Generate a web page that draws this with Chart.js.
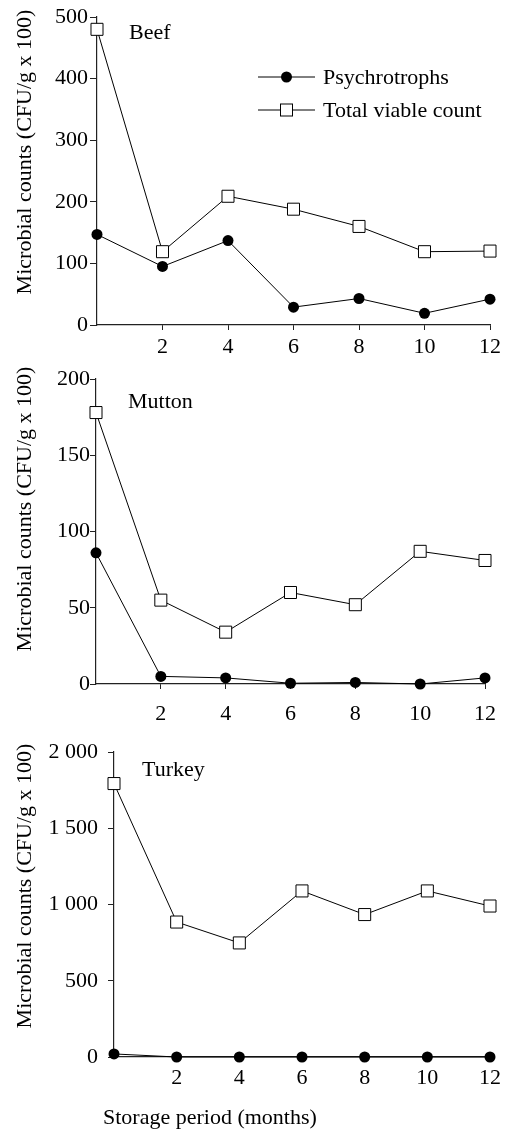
<!DOCTYPE html>
<html>
<head>
<meta charset="utf-8">
<script src="https://cdn.jsdelivr.net/npm/chart.js@4/dist/chart.umd.min.js"></script>
<style>
  body { margin: 0; background: #fff; }
  .panel { position: absolute; left: 0; width: 508px; }
</style>
</head>
<body>
<div class="panel" style="top:0;height:360px"><canvas id="beef" width="508" height="360"></canvas></div>
<div class="panel" style="top:360px;height:360px"><canvas id="mutton" width="508" height="360"></canvas></div>
<div class="panel" style="top:720px;height:411px"><canvas id="turkey" width="508" height="411"></canvas></div>
<script>
// storage period, months
const months = [0, 2, 4, 6, 8, 10, 12];
const xTickLabels = ['', '2', '4', '6', '8', '10', '12'];

// beef
const beefPsychro = [147, 95, 137, 29, 43, 19, 42];
const beefTvc = [480, 119, 209, 188, 160, 119, 120];
const beefYTicks = ['0', '100', '200', '300', '400', '500'];

// mutton
const muttonPsychro = [86, 5, 4, 0.5, 1, 0, 4];
const muttonTvc = [178, 55, 34, 60, 52, 87, 81];
const muttonYTicks = ['0', '50', '100', '150', '200'];

// turkey
const turkeyPsychro = [20, 0, 0, 0, 0, 0, 0];
const turkeyTvc = [1793, 885, 748, 1089, 934, 1089, 990];
const turkeyYTicks = ['0', '500', '1 000', '1 500', '2 000'];

const seriesNames = ['Psychrotrophs', 'Total viable count'];
const yTitle = 'Microbial counts (CFU/g x 100)';
const xTitle = 'Storage period (months)';

const FONT = "'Liberation Serif', 'Times New Roman', serif";

// draws the rotated y title, panel name, legend and x title
const panelText = {
    id: 'panelText',
    afterDraw(chart, args, opts) {
        const ctx = chart.ctx;
        ctx.save();
        ctx.fillStyle = '#000';
        ctx.font = '22px ' + FONT;

        // y title
        ctx.save();
        ctx.translate(opts.yTitleX, opts.yTitleY);
        ctx.rotate(-Math.PI / 2);
        ctx.textAlign = 'center';
        ctx.textBaseline = 'middle';
        ctx.fillText(yTitle, 0, 0);
        ctx.restore();

        // panel name
        ctx.textAlign = 'left';
        ctx.textBaseline = 'alphabetic';
        ctx.fillText(opts.name, opts.nameX, opts.nameY);

        if (opts.xTitle) {
            ctx.fillText(xTitle, opts.xTitleX, opts.xTitleY);
        }

        if (opts.legend) {
            const lg = opts.legend;
            seriesNames.forEach((label, i) => {
                const y = lg.y + i * lg.gap;
                ctx.strokeStyle = '#000';
                ctx.lineWidth = 1;
                ctx.beginPath();
                ctx.moveTo(lg.x1, y);
                ctx.lineTo(lg.x2, y);
                ctx.stroke();
                const cx = (lg.x1 + lg.x2) / 2;
                if (i === 0) {
                    ctx.beginPath();
                    ctx.arc(cx, y, 5.5, 0, Math.PI * 2);
                    ctx.fillStyle = '#000';
                    ctx.fill();
                } else {
                    ctx.fillStyle = '#fff';
                    ctx.fillRect(cx - 6, y - 6, 12, 12);
                    ctx.strokeRect(cx - 6, y - 6, 12, 12);
                }
                ctx.fillStyle = '#000';
                ctx.fillText(label, lg.textX, y + 7);
            });
        }
        ctx.restore();
    }
};

function toPoints(values) {
    return months.map((m, i) => ({ x: m, y: values[i] }));
}

function makeChart(id, cfg) {
    const ctx = document.getElementById(id).getContext('2d');
    return new Chart(ctx, {
        type: 'line',
        data: {
            datasets: [
                {
                    label: seriesNames[0],
                    data: toPoints(cfg.psychro),
                    borderColor: '#000',
                    borderWidth: 1,
                    pointStyle: 'circle',
                    pointRadius: 5.5,
                    pointBackgroundColor: '#000',
                    pointBorderColor: '#000',
                    pointBorderWidth: 0,
                    clip: false
                },
                {
                    label: seriesNames[1],
                    data: toPoints(cfg.tvc),
                    borderColor: '#000',
                    borderWidth: 1,
                    pointStyle: 'rect',
                    pointRadius: 8.5,
                    pointBackgroundColor: '#fff',
                    pointBorderColor: '#000',
                    pointBorderWidth: 1,
                    clip: false
                }
            ]
        },
        options: {
            responsive: false,
            animation: false,
            layout: { padding: { top: cfg.top, right: 18, left: 0, bottom: 0 } },
            plugins: {
                legend: { display: false },
                tooltip: { enabled: false },
                panelText: cfg.text
            },
            scales: {
                x: {
                    type: 'linear',
                    min: 0,
                    max: 12,
                    afterFit: s => { s.height = cfg.xHeight; },
                    afterBuildTicks: s => { s.ticks = months.map(v => ({ value: v })); },
                    border: { display: true, color: '#222', width: 1.2 },
                    grid: {
                        drawOnChartArea: false,
                        drawTicks: true,
                        tickLength: 5,
                        color: c => (c.tick && c.tick.value === 0 ? 'rgba(0,0,0,0)' : '#222')
                    },
                    ticks: {
                        color: '#000',
                        padding: cfg.xPad,
                        maxRotation: 0,
                        font: { family: FONT, size: 22 },
                        callback: (v, i) => xTickLabels[i]
                    }
                },
                y: {
                    min: 0,
                    max: cfg.yMax,
                    afterFit: s => { s.width = cfg.left; },
                    afterBuildTicks: s => {
                        s.ticks = cfg.yTicks.map((t, i) => ({ value: i * cfg.yStep }));
                    },
                    border: { display: true, color: '#222', width: 1.2 },
                    grid: {
                        drawOnChartArea: false,
                        drawTicks: true,
                        tickLength: cfg.yTick,
                        color: '#222'
                    },
                    ticks: {
                        color: '#000',
                        padding: cfg.yPad,
                        font: { family: FONT, size: 22 },
                        callback: (v, i) => cfg.yTicks[i]
                    }
                }
            }
        },
        plugins: [panelText]
    });
}

makeChart('beef', {
    psychro: beefPsychro, tvc: beefTvc, yTicks: beefYTicks, yMax: 500, yStep: 100,
    top: 17, left: 97, xHeight: 35, xPad: 4, yTick: 7, yPad: 2,
    text: {
        name: 'Beef', nameX: 129, nameY: 39,
        yTitleX: 25, yTitleY: 152,
        legend: { x1: 258, x2: 315, y: 77, gap: 33, textX: 323 }
    }
});

makeChart('mutton', {
    psychro: muttonPsychro, tvc: muttonTvc, yTicks: muttonYTicks, yMax: 200, yStep: 50,
    top: 19, left: 96, xHeight: 36, xPad: 12, yTick: 6, yPad: 0,
    text: {
        name: 'Mutton', nameX: 128, nameY: 48,
        yTitleX: 25, yTitleY: 149
    }
});

makeChart('turkey', {
    psychro: turkeyPsychro, tvc: turkeyTvc, yTicks: turkeyYTicks, yMax: 2000, yStep: 500,
    top: 32, left: 114, xHeight: 74, xPad: 3, yTick: 6, yPad: 10,
    text: {
        name: 'Turkey', nameX: 142, nameY: 56,
        yTitleX: 25, yTitleY: 166,
        xTitle: true, xTitleX: 103, xTitleY: 404
    }
});
</script>
</body>
</html>
